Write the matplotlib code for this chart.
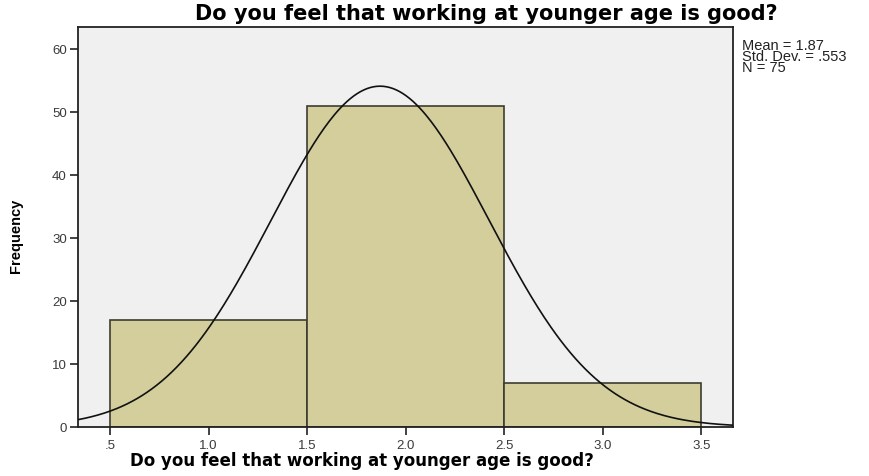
import numpy as np
import matplotlib
matplotlib.use("Agg")
import matplotlib.pyplot as plt

bin_edges = [0.5, 1.5, 2.5, 3.5]
counts = [17, 51, 7]
mean, sd, n = 1.87, 0.553, 75
xticks = [0.5, 1.0, 1.5, 2.0, 2.5, 3.0, 3.5]
xticklabels = [".5", "1.0", "1.5", "2.0", "2.5", "3.0", "3.5"]
yticks = [0, 10, 20, 30, 40, 50, 60]
title = "Do you feel that working at younger age is good?"

plt.rcParams['font.family'] = ['Liberation Sans', 'DejaVu Sans']

W, H = 869, 476
fig = plt.figure(figsize=(W/100, H/100), dpi=100)
ax = fig.add_axes([78/W, 49/H, 655/W, 400/H])
ax.set_facecolor('#f0f0f0')

widths = np.diff(bin_edges)
ax.bar(bin_edges[:-1], counts, width=widths, align='edge', color='#d3ce9b',
       edgecolor='#3c3c30', linewidth=1.2, zorder=2)

xlo, xhi = 0.338, 3.66
xs = np.linspace(xlo, xhi, 400)
ys = n * 1.0 / (sd * np.sqrt(2*np.pi)) * np.exp(-0.5*((xs-mean)/sd)**2)
ax.plot(xs, ys, color='#111111', linewidth=1.2, zorder=3)

ax.set_xlim(xlo, xhi)
ax.set_ylim(0, 63.5)
ax.set_xticks(xticks)
ax.set_xticklabels(xticklabels)
ax.set_yticks(yticks)
ax.tick_params(direction='out', length=6, width=1.2, colors='#222222',
               labelsize=9.5, labelcolor='#3a3a3a')
ax.tick_params(axis='y', pad=2)
for s in ax.spines.values():
    s.set_linewidth(1.3)
    s.set_color('#222222')

fig.text(486/W, 1 - 14/H, title, fontsize=15, fontweight='bold',
         ha='center', va='center', family=['DejaVu Sans'])
fig.text(362/W, 1 - 461/H, title, fontsize=12, fontweight='bold',
         ha='center', va='center', family=['DejaVu Sans'])
fig.text(16/W, 1 - 236/H, "Frequency", fontsize=10.5, fontweight='bold',
         rotation=90, ha='center', va='center',
         family=['Liberation Sans Narrow', 'Liberation Sans', 'DejaVu Sans'])

fig.text(742/W, 1 - 39/H,
         f"Mean = {mean:.2f}\nStd. Dev. = {str(sd)[1:]}\nN = {n}",
         fontsize=10.5, va='top', ha='left', color='#222222', linespacing=0.75)

fig.savefig("out.png", dpi=100)
